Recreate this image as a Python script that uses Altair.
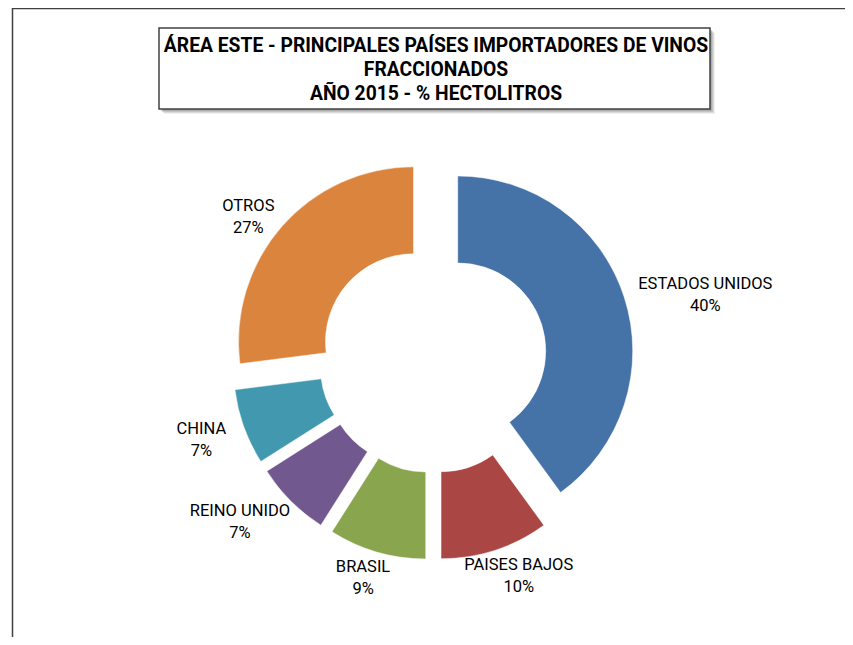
import math
import altair as alt
import pandas as pd

# ---- data ----
countries = ["ESTADOS UNIDOS", "PAISES BAJOS", "BRASIL", "REINO UNIDO", "CHINA", "OTROS"]
shares = [40, 10, 9, 7, 7, 27]
colors = ["#4572A7", "#AA4643", "#89A54E", "#71588F", "#4198AF", "#DB843D"]
title_lines = [
    "ÁREA ESTE - PRINCIPALES PAÍSES IMPORTADORES DE VINOS",
    "FRACCIONADOS",
    "AÑO 2015 - % HECTOLITROS",
]

# ---- layout params ----
W, H = 837, 629
CX, CY = 425, 351          # donut centre (view px)
R_OUT, R_IN = 175, 88
EXPLODE = 26
LABEL_A, LABEL_B, LABEL_DY = 198, 197, 5
CHAR_W = 8.9
LINE_H = 22
FONT = "Roboto, Liberation Sans, sans-serif"

df = pd.DataFrame({"pais": countries, "share": shares, "orden": list(range(len(countries)))})

base = alt.Chart(df).transform_window(
    cum_end="sum(share)", sort=[alt.SortField("orden")], frame=[None, 0]
).transform_calculate(
    start="datum.cum_end - datum.share",
    mid="(datum.cum_end - datum.share/2) / 100 * 2 * PI",
).transform_calculate(
    cx=f"{CX} + {EXPLODE} * sin(datum.mid)",
    cy=f"{CY} - {EXPLODE} * cos(datum.mid)",
    label="datum.pais + '\\n' + datum.share + '%'",
).transform_calculate(
    lx=f"datum.cx + {LABEL_A} * sin(datum.mid) + sin(datum.mid) * length(datum.pais) * {CHAR_W} / 2",
    ly=f"datum.cy - {LABEL_B} * cos(datum.mid) + {LABEL_DY} - {LINE_H} / 2",
)

theta_scale = alt.Scale(domain=[0, 100], range=[0, 2 * math.pi])

arcs = base.mark_arc(outerRadius=R_OUT, innerRadius=R_IN, stroke="white", strokeWidth=0.5).encode(
    x=alt.X("cx:Q", scale=None, axis=None),
    y=alt.Y("cy:Q", scale=None, axis=None),
    theta=alt.Theta("start:Q", scale=theta_scale),
    theta2="cum_end:Q",
    color=alt.Color("pais:N", scale=alt.Scale(domain=countries, range=colors), legend=None),
)

labels = base.mark_text(
    lineBreak="\n", baseline="middle", align="center", font=FONT, fontSize=16.5,
    lineHeight=LINE_H, color="#000000",
).encode(
    x=alt.X("lx:Q", scale=None, axis=None),
    y=alt.Y("ly:Q", scale=None, axis=None),
    text="label:N",
)

# outer border
one = pd.DataFrame({"a": [0]})
border = alt.Chart(one).mark_rect(
    fill=None, stroke="#404040", strokeWidth=1.5
).encode(x=alt.value(4.5), x2=alt.value(W + 20), y=alt.value(0.5), y2=alt.value(H + 20))

# title box with shadow
shadows = []
for k, op in [(5, 0.12), (4, 0.18), (3, 0.25), (2, 0.35)]:
    shadows.append(
        alt.Chart(one).mark_rect(fill="#808080", opacity=op).encode(
            x=alt.value(151 + k), x2=alt.value(702 + k), y=alt.value(20 + k), y2=alt.value(101 + k)
        )
    )
tbox = alt.Chart(one).mark_rect(fill="white", stroke="#404040", strokeWidth=1.5).encode(
    x=alt.value(151), x2=alt.value(702), y=alt.value(20), y2=alt.value(101)
)
ttext = alt.Chart(pd.DataFrame({"t": ["\n".join(title_lines)]})).mark_text(
    lineBreak="\n", baseline="middle", align="center", font=FONT, fontSize=19.3,
    fontWeight="bold", lineHeight=24, color="#000000",
).encode(x=alt.value(428), y=alt.value(38), text="t:N")

chart = alt.layer(border, *shadows, tbox, ttext, arcs, labels).properties(
    width=W, height=H, padding=0, autosize=alt.AutoSizeParams(type="none")
).configure_view(stroke=None)

chart.save("out.html", embed_options={"renderer": "svg", "actions": False})
